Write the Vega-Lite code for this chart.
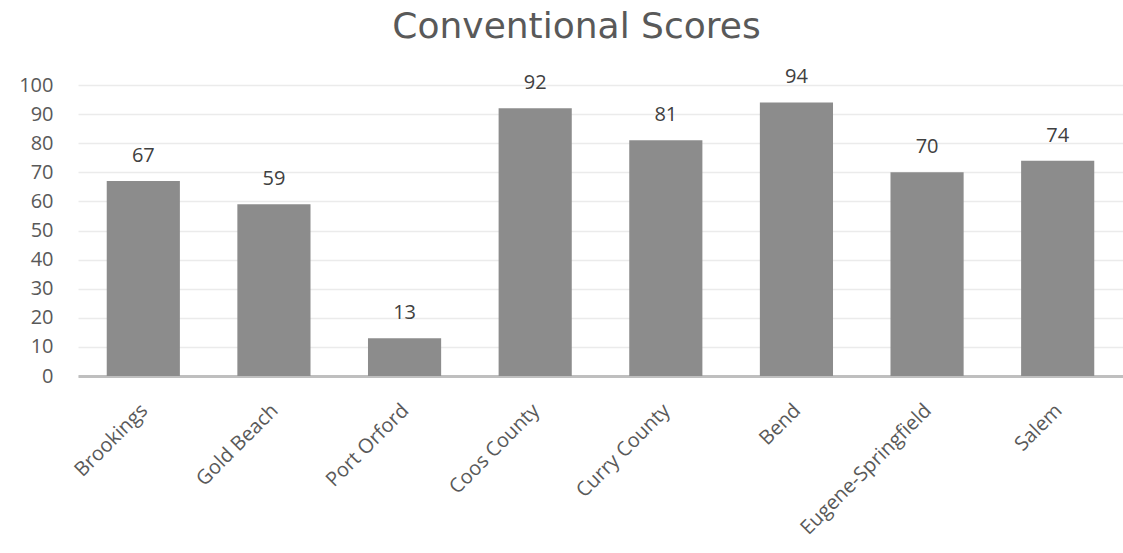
{
  "$schema": "https://vega.github.io/schema/vega-lite/v6.json",
  "autosize": "none",
  "width": 1045,
  "height": 291,
  "padding": {"left": 78, "top": 85, "right": 0, "bottom": 177},
  "background": "white",
  "title": {
    "text": "Conventional Scores",
    "font": "DejaVu Sans",
    "fontSize": 36,
    "fontWeight": "normal",
    "color": "#595959",
    "anchor": "middle",
    "offset": 21,
    "dx": -24
  },
  "data": {
    "values": [
      {"city": "Brookings", "score": 67},
      {"city": "Gold Beach", "score": 59},
      {"city": "Port Orford", "score": 13},
      {"city": "Coos County", "score": 92},
      {"city": "Curry County", "score": 81},
      {"city": "Bend", "score": 94},
      {"city": "Eugene-Springfield", "score": 70},
      {"city": "Salem", "score": 74}
    ]
  },
  "encoding": {
    "x": {
      "field": "city",
      "type": "nominal",
      "sort": null,
      "scale": {"paddingInner": 0.44, "paddingOuter": 0.22},
      "axis": {
        "title": null,
        "labelAngle": -45,
        "labelFont": "Open Sans",
        "labelFontSize": 20,
        "labelColor": "#595959",
        "labelPadding": 24,
        "labelOffset": -6,
        "ticks": false,
        "domainColor": "#bfbfbf",
        "domainWidth": 3,
        "grid": false
      }
    },
    "y": {
      "field": "score",
      "type": "quantitative",
      "scale": {"domain": [0, 100], "nice": false},
      "axis": {
        "title": null,
        "values": [0, 10, 20, 30, 40, 50, 60, 70, 80, 90, 100],
        "labelFont": "Open Sans",
        "labelFontSize": 20,
        "labelColor": "#595959",
        "labelPadding": 25,
        "ticks": false,
        "domain": false,
        "gridColor": "#ebebeb",
        "gridWidth": 1.5
      }
    }
  },
  "layer": [
    {"mark": {"type": "bar", "color": "#8c8c8c"}},
    {
      "mark": {
        "type": "text",
        "baseline": "bottom",
        "dy": -15,
        "font": "Open Sans",
        "fontSize": 20,
        "color": "#404040"
      },
      "encoding": {"text": {"field": "score", "type": "quantitative"}}
    }
  ],
  "config": {"view": {"stroke": null}}
}
